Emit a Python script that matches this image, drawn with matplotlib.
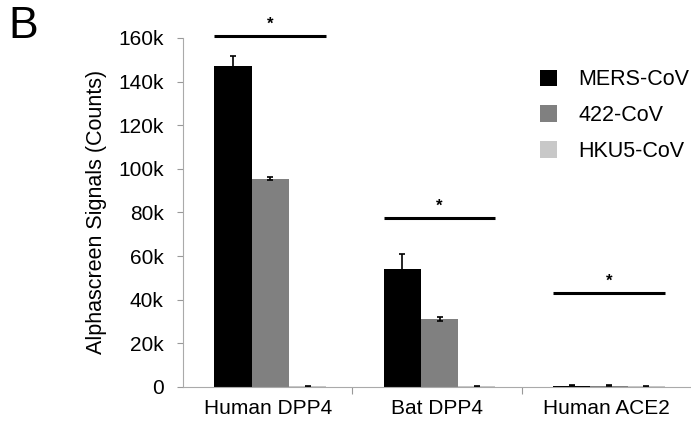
import matplotlib.pyplot as plt
import numpy as np
from matplotlib.ticker import FuncFormatter

plt.rcParams["font.family"] = ["Liberation Sans", "DejaVu Sans"]

categories = ["Human DPP4", "Bat DPP4", "Human ACE2"]
series = ["MERS-CoV", "422-CoV", "HKU5-CoV"]
colors = ["#000000", "#808080", "#c8c8c8"]
values = [
    [147000, 54000, 600],   # MERS-CoV
    [95500, 31000, 500],    # 422-CoV
    [300, 300, 300],        # HKU5-CoV
]
errors = [
    [4500, 7000, 200],
    [800, 1000, 200],
    [300, 300, 300],
]
sig_heights = [161000, 77500, 43000]

fig = plt.figure(figsize=(6.91, 4.21), dpi=100)
ax = fig.add_axes([0.265, 0.081, 0.735, 0.829])

x = np.arange(len(categories))
w = 0.22
for i, (name, col) in enumerate(zip(series, colors)):
    ax.bar(x + (i - 1) * w + 0.015, values[i], w, color=col, label=name,
           yerr=errors[i], error_kw=dict(ecolor="black", elinewidth=1.2, capsize=2.5, capthick=1.2))

for xi, h in zip(x, sig_heights):
    ax.plot([xi - 1.5 * w + 0.015, xi + 1.5 * w + 0.015], [h, h], color="black", lw=2.2,
            clip_on=False, solid_capstyle="butt")
    ax.text(xi + 0.015, h + 2000, "*", ha="center", va="bottom", fontsize=12, fontweight="bold")

ax.set_xlim(-0.5, 2.5)
ax.set_ylim(0, 160000)
ax.set_yticks(np.arange(0, 160001, 20000))
ax.yaxis.set_major_formatter(FuncFormatter(lambda v, p: "0" if v == 0 else f"{int(v / 1000)}k"))
ax.set_xticks([0.5, 1.5])
ax.set_xticklabels([])
ax.set_xticks(x, minor=True)
ax.set_xticklabels(categories, minor=True, fontsize=15)
ax.tick_params(axis="x", which="minor", length=0, pad=9)
ax.tick_params(axis="x", which="major", length=5, color="#999999", direction="out")
ax.tick_params(axis="y", labelsize=15, length=4, color="#999999", pad=10)

for s in ["top", "right"]:
    ax.spines[s].set_visible(False)
ax.spines["left"].set_color("#aaaaaa")
ax.spines["bottom"].set_color("#aaaaaa")

ax.set_ylabel("Alphascreen Signals (Counts)", fontsize=15.5, labelpad=8)
ax.legend(loc="upper right", bbox_to_anchor=(1.035, 0.965), frameon=False, fontsize=15.5,
          handlelength=0.8, handleheight=0.8, labelspacing=0.68, handletextpad=1.0)

fig.text(0.012, 0.985, "B", fontsize=32, va="top")

fig.savefig("out.png")
